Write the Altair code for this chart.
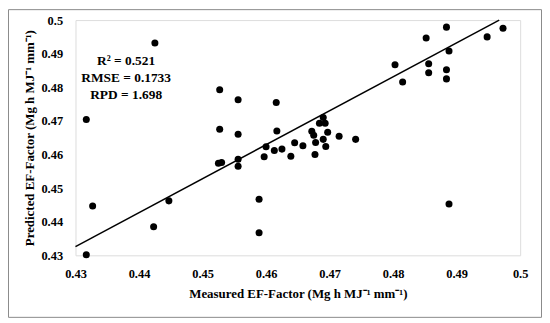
import altair as alt
import pandas as pd

x_meas = [
    0.4317, 0.4327, 0.4317, 0.4425, 0.4423, 0.4447,
    0.4527, 0.4527, 0.4525, 0.4530,
    0.4556, 0.4556, 0.4556, 0.4556,
    0.4589, 0.4589, 0.4597, 0.4600, 0.4613, 0.4616, 0.4617, 0.4625,
    0.4639, 0.4645, 0.4658, 0.4672, 0.4675, 0.4677, 0.4678,
    0.4684, 0.4690, 0.4693, 0.4697, 0.4690, 0.4694, 0.4715, 0.4741,
    0.4803, 0.4815, 0.4852, 0.4856, 0.4856, 0.4884, 0.4888, 0.4884, 0.4884, 0.4888, 0.4948, 0.4973,
]
y_pred = [
    0.4704, 0.4447, 0.4302, 0.4932, 0.4385, 0.4462,
    0.4793, 0.4675, 0.4574, 0.4576,
    0.4763, 0.4660, 0.4586, 0.4565,
    0.4467, 0.4367, 0.4593, 0.4623, 0.4612, 0.4755, 0.4670, 0.4616,
    0.4595, 0.4635, 0.4626, 0.4669, 0.4657, 0.4600, 0.4636,
    0.4693, 0.4710, 0.4693, 0.4666, 0.4645, 0.4624, 0.4654, 0.4645,
    0.4867, 0.4816, 0.4947, 0.4870, 0.4843, 0.4979, 0.4908, 0.4852, 0.4825, 0.4453, 0.4950, 0.4976,
]

fit_x = [0.43, 0.4967]
fit_y = [0.4326, 0.5]

stat_labels = ["R² = 0.521", "RMSE =  0.1733", "RPD =  1.698"]
stat_x = [0.43797, 0.43797, 0.43797]
stat_y = [0.48787, 0.48284, 0.47781]

ticks = [0.43, 0.44, 0.45, 0.46, 0.47, 0.48, 0.49, 0.5]

FONT = "Liberation Serif"

pts = pd.DataFrame({"x": x_meas, "y": y_pred})
fit = pd.DataFrame({"x": fit_x, "y": fit_y})
stats = pd.DataFrame({"t": stat_labels, "x": stat_x, "y": stat_y})

xs = alt.Scale(domain=[0.43, 0.5], nice=False, zero=False)
ys = alt.Scale(domain=[0.43, 0.5], nice=False, zero=False)

common = dict(
    values=ticks, format=".2~f", grid=False, ticks=False, domain=False,
    labelFont=FONT, labelFontSize=12.5, labelFontWeight="bold", labelColor="black",
    labelOverlap=False, labelFlush=False, labelBound=False,
    titleFont=FONT, titleFontSize=13, titleFontWeight="bold", titleColor="black",
)

x_axis = alt.Axis(
    labelPadding=12,
    title="Measured EF-Factor (Mg h MJ⁻¹ mm⁻¹)",
    titleY=39, titleBaseline="middle",
    **common,
)
y_axis = alt.Axis(
    labelPadding=13,
    title="Predicted EF-Factor (Mg h MJ⁻¹ mm⁻¹)",
    titleX=-46, titleY=118.5, titleAngle=-90, titleBaseline="middle", titleAlign="center",
    **common,
)

X = alt.X("x:Q", scale=xs, axis=x_axis)
Y = alt.Y("y:Q", scale=ys, axis=y_axis)

points = alt.Chart(pts).mark_circle(size=50, color="black", opacity=1).encode(x=X, y=Y)

line = alt.Chart(fit).mark_line(color="black", strokeWidth=1.5).encode(x=X, y=Y)

text = alt.Chart(stats).mark_text(
    font=FONT, fontSize=13.5, fontWeight="bold", color="black", align="center", baseline="middle"
).encode(x=X, y=Y, text="t:N")

frame = alt.Chart(pd.DataFrame({"a": [1]})).mark_rect(
    fillOpacity=0, stroke="#8a8a8a", strokeWidth=1
).encode(
    x=alt.value(-67.5), x2=alt.value(469.5), y=alt.value(-10.5), y2=alt.value(299.5)
)

chart = alt.layer(frame, points, line, text).properties(
    width=448, height=237,
    autosize=alt.AutoSizeParams(type="none"),
    padding={"left": 68, "top": 11, "right": 22, "bottom": 63},
).configure_view(stroke="black", strokeWidth=1.5).configure(background="white")

chart.save("out.html", embed_options={"renderer": "svg", "actions": False})
